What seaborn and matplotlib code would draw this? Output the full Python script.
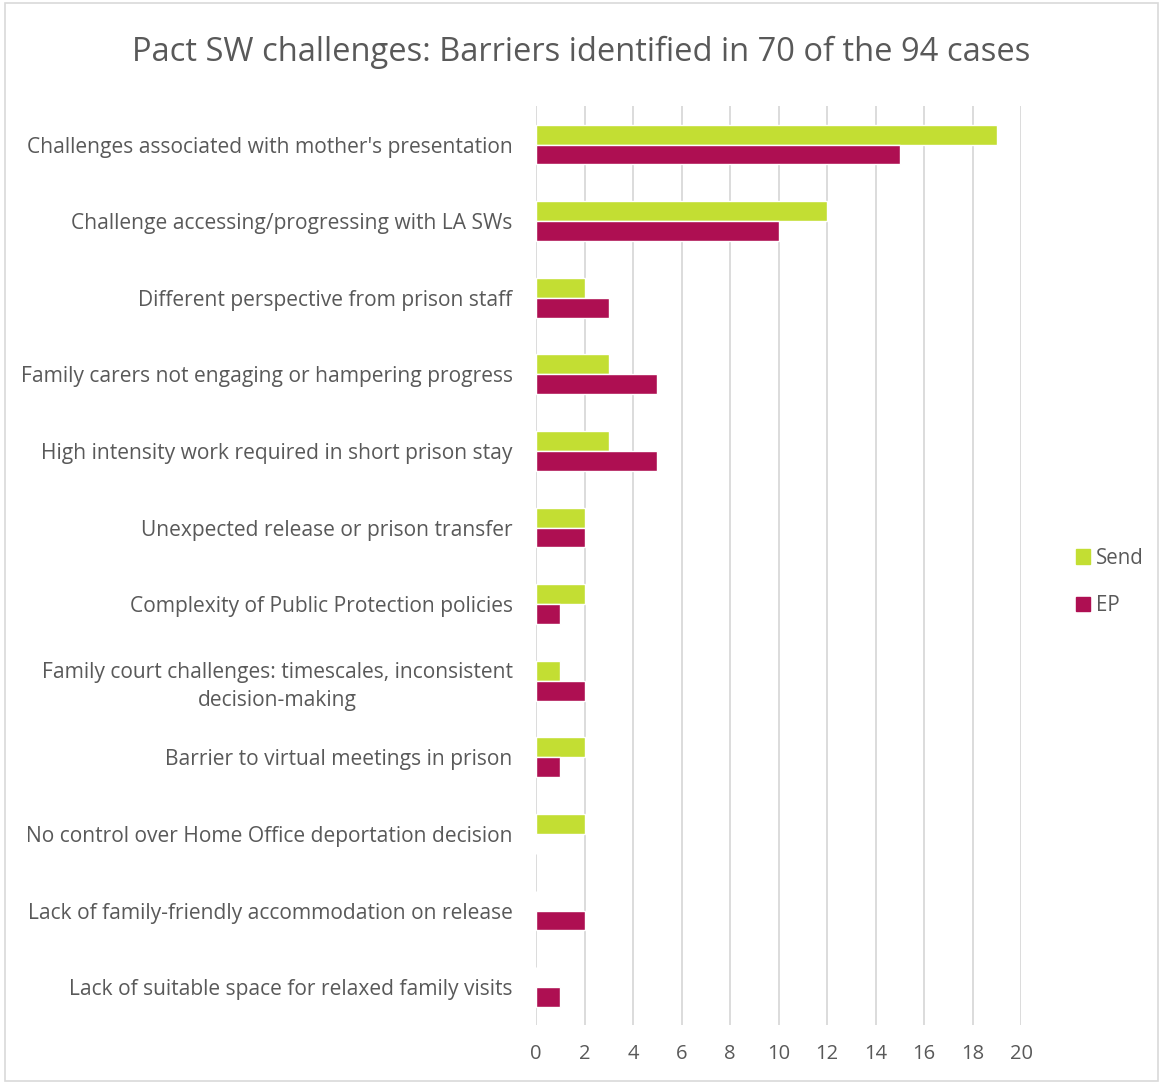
import matplotlib
matplotlib.use("Agg")
import matplotlib.pyplot as plt
import seaborn as sns
import pandas as pd
from matplotlib.patches import Rectangle

categories = [
    "Challenges associated with mother's presentation",
    "Challenge accessing/progressing with LA SWs",
    "Different perspective from prison staff",
    "Family carers not engaging or hampering progress",
    "High intensity work required in short prison stay",
    "Unexpected release or prison transfer",
    "Complexity of Public Protection policies",
    "Family court challenges: timescales, inconsistent\ndecision-making",
    "Barrier to virtual meetings in prison",
    "No control over Home Office deportation decision",
    "Lack of family-friendly accommodation on release",
    "Lack of suitable space for relaxed family visits",
]
send_values = [19, 12, 2, 3, 3, 2, 2, 1, 2, 2, 0, 0]
ep_values = [15, 10, 3, 5, 5, 2, 1, 2, 1, 0, 2, 1]
series_names = ["Send", "EP"]
x_ticks = [0, 2, 4, 6, 8, 10, 12, 14, 16, 18, 20]
title = "Pact SW challenges: Barriers identified in 70 of the 94 cases"

colors = {"Send": "#C3DE33", "EP": "#AE0F52"}
text_color = "#595959"

df = pd.DataFrame({
    "Category": categories * 2,
    "Value": send_values + ep_values,
    "Series": ["Send"] * len(categories) + ["EP"] * len(categories),
})

sns.set_theme(style="white")
plt.rcParams["font.family"] = ["Open Sans", "DejaVu Sans"]

fig = plt.figure(figsize=(11.63, 10.84), dpi=100)
ax = fig.add_axes([0.461, 0.054, 0.417, 0.848])

sns.barplot(data=df, y="Category", x="Value", hue="Series", hue_order=series_names,
            order=categories, palette=colors, orient="h", width=0.52,
            saturation=1, ax=ax, legend=False)

ax.set_xlim(0, 20)
ax.set_xticks(x_ticks)
ax.set_xticklabels([str(t) for t in x_ticks], fontsize=14.5, color=text_color)
ax.xaxis.grid(True, color="#D9D9D9", linewidth=1.3)
ax.set_axisbelow(True)
ax.set_xlabel("")
ax.set_ylabel("")
for s in ax.spines.values():
    s.set_visible(False)
ax.tick_params(axis="both", length=0)
ax.tick_params(axis="x", pad=13)
ax.tick_params(axis="y", pad=17)
for lab in ax.get_yticklabels():
    lab.set_fontsize(15.1)
    lab.set_color(text_color)
    lab.set_multialignment("center")
    lab.set_linespacing(1.45)

fig.text(0.5, 0.952, title, ha="center", va="center", fontsize=23.5, color=text_color)

handles = [Rectangle((0, 0), 1, 1, color=colors[n]) for n in series_names]
fig.legend(handles, series_names, loc="center left", bbox_to_anchor=(0.909, 0.463),
           frameon=False, fontsize=14.8, handlelength=0.7, handleheight=0.7,
           handletextpad=0.3, labelspacing=1.3, labelcolor=text_color)

fig.patches.append(Rectangle((0.004, 0.003), 0.992, 0.994, transform=fig.transFigure,
                             fill=False, edgecolor="#D9D9D9", linewidth=1.2))

fig.savefig("out.png", dpi=100)
